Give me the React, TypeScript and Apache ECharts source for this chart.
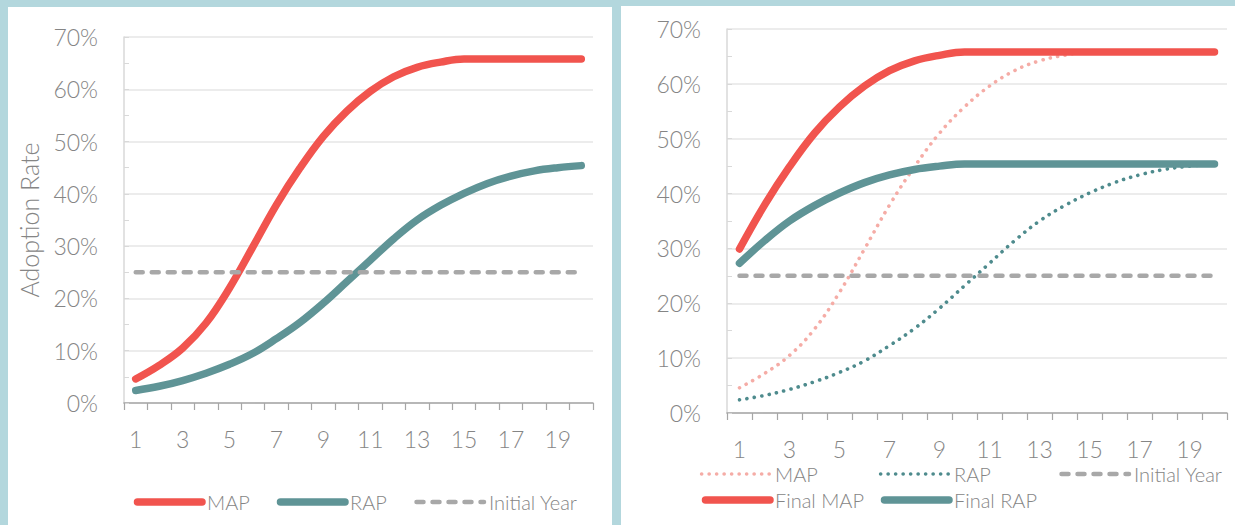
import React, { useEffect, useRef } from "react";
import * as echarts from "echarts";

const YEARS = ["1","2","3","4","5","6","7","8","9","10","11","12","13","14","15","16","17","18","19","20"];
const MAP = [4.6, 7.2, 10.5, 15.3, 22.0, 29.9, 37.9, 44.9, 51.0, 55.8, 59.6, 62.4, 64.2, 65.2, 65.8, 65.8, 65.8, 65.8, 65.8, 65.8];
const RAP = [2.4, 3.2, 4.3, 5.7, 7.4, 9.5, 12.3, 15.4, 19.1, 23.2, 27.3, 31.4, 35.0, 37.8, 40.1, 42.0, 43.4, 44.4, 45.0, 45.4];
const INITIAL_YEAR = [25, 25, 25, 25, 25, 25, 25, 25, 25, 25, 25, 25, 25, 25, 25, 25, 25, 25, 25, 25];
const FINAL_MAP = [29.9, 37.9, 44.9, 51.0, 55.8, 59.6, 62.4, 64.2, 65.2, 65.8, 65.8, 65.8, 65.8, 65.8, 65.8, 65.8, 65.8, 65.8, 65.8, 65.8];
const FINAL_RAP = [27.3, 31.4, 35.0, 37.8, 40.1, 42.0, 43.4, 44.4, 45.0, 45.4, 45.4, 45.4, 45.4, 45.4, 45.4, 45.4, 45.4, 45.4, 45.4, 45.4];
const Y_TICKS = { min: 0, max: 70, interval: 10 };

const RED = "#f1544e";
const TEAL = "#5f9496";
const PINK = "#f5aca6";
const DTEAL = "#4e8b8d";
const GRAY = "#a8a8a8";
const FONT = "Lato";
const LABEL = "#858585";

const xAxis = (margin: number) => ({
  type: "category",
  data: YEARS,
  boundaryGap: true,
  axisLine: { show: true, lineStyle: { color: "#a6a6a6", width: 1.5 } },
  axisTick: { show: true, length: 7, interval: 0, lineStyle: { color: "#a6a6a6", width: 1.2 } },
  axisLabel: { interval: 1, margin, color: LABEL, fontFamily: FONT, fontWeight: 300, fontSize: 23 },
  splitLine: { show: false },
});

const yAxis = (extra: any) => ({
  type: "value",
  min: Y_TICKS.min,
  max: Y_TICKS.max,
  interval: Y_TICKS.interval,
  axisLine: { show: true, lineStyle: { color: "#d9d9d9", width: 1.5 } },
  axisTick: { show: true, inside: true, length: 5, lineStyle: { color: "#d9d9d9" } },
  minorTick: { show: true, splitNumber: 2, length: 5, lineStyle: { color: "#d9d9d9" } },
  axisLabel: { formatter: "{value}%", margin: 26, color: LABEL, fontFamily: FONT, fontWeight: 300, fontSize: 23 },
  splitLine: { show: true, lineStyle: { color: "#e6e6e6", width: 1.5 } },
  ...extra,
});

// left/top given as the page-like position of the visible icon start and row center
const legendItem = (name: string, left: number, centerY: number, color: string, width: number, type: any) => {
  const isSolid = type === "solid";
  const capPad = width / 2;
  return {
    data: [name],
    left: left + capPad,
    top: centerY - 12,
    padding: 0,
    orient: "horizontal",
    itemWidth: 72 - 2 * capPad,
    itemHeight: 14,
    selectedMode: false,
    itemStyle: { color: "transparent", borderColor: "transparent", borderWidth: 0, opacity: 0 },
    lineStyle: { color, width, type: isSolid ? "solid" : type, cap: "round" },
    textStyle: { color: LABEL, fontFamily: FONT, fontWeight: 300, fontSize: 20 },
  };
};

const solid = (name: string, data: number[], color: string) => ({
  name,
  type: "line",
  data,
  smooth: 0.4,
  symbol: "none",
  lineStyle: { color, width: 7.5, cap: "round", join: "round" },
  itemStyle: { color },
});

const dotted = (name: string, data: number[], color: string) => ({
  name,
  type: "line",
  data,
  smooth: 0.4,
  symbol: "none",
  lineStyle: { color, width: 3.6, type: [0.1, 7.4], cap: "round" },
  itemStyle: { color },
});

const dashed = (name: string, data: number[]) => ({
  name,
  type: "line",
  data,
  symbol: "none",
  lineStyle: { color: GRAY, width: 4.5, type: [7, 9], cap: "round" },
  itemStyle: { color: GRAY },
});

function Chart({ option, style }: { option: any; style: React.CSSProperties }) {
  const ref = useRef<HTMLDivElement>(null);
  useEffect(() => {
    if (!ref.current) return;
    const chart = echarts.init(ref.current, undefined, { renderer: "svg" });
    chart.setOption(option);
    return () => chart.dispose();
  }, [option]);
  return <div ref={ref} style={style} />;
}

const leftOption = {
  animation: false,
  backgroundColor: "#ffffff",
  grid: { left: 116, right: 19, top: 30, bottom: 122, containLabel: false },
  xAxis: xAxis(24),
  yAxis: yAxis({
    name: "Adoption Rate",
    nameLocation: "middle",
    nameGap: 83,
    nameTextStyle: { color: LABEL, fontFamily: FONT, fontWeight: 300, fontSize: 25 },
  }),
  legend: [
    legendItem("MAP", 122, 497, RED, 7.5, "solid"),
    legendItem("RAP", 265, 497, TEAL, 7.5, "solid"),
    legendItem("Initial Year", 404, 497, GRAY, 4.5, [7, 9]),
  ],
  series: [solid("MAP", MAP, RED), solid("RAP", RAP, TEAL), dashed("Initial Year", INITIAL_YEAR)],
};

const rightOption = {
  animation: false,
  backgroundColor: "#ffffff",
  grid: { left: 106, right: 8, top: 23, bottom: 112, containLabel: false },
  xAxis: xAxis(24),
  yAxis: yAxis({}),
  legend: [
    legendItem("MAP", 77, 470, PINK, 3.6, [0.1, 7.4]),
    legendItem("RAP", 256, 470, DTEAL, 3.6, [0.1, 7.4]),
    legendItem("Initial Year", 436, 470, GRAY, 4.5, [7, 9]),
    legendItem("Final MAP", 77, 496, RED, 7.5, "solid"),
    legendItem("Final RAP", 256, 496, TEAL, 7.5, "solid"),
  ],
  series: [
    dotted("MAP", MAP, PINK),
    dotted("RAP", RAP, DTEAL),
    dashed("Initial Year", INITIAL_YEAR),
    solid("Final MAP", FINAL_MAP, RED),
    solid("Final RAP", FINAL_RAP, TEAL),
  ],
};

export default function App() {
  return (
    <div style={{ position: "absolute", left: 0, top: 0, width: 1235, height: 525, background: "#b3d7dd", overflow: "hidden" }}>
      <Chart option={leftOption} style={{ position: "absolute", left: 8, top: 7, width: 604, height: 518 }} />
      <Chart option={rightOption} style={{ position: "absolute", left: 621, top: 6, width: 614, height: 519 }} />
    </div>
  );
}
